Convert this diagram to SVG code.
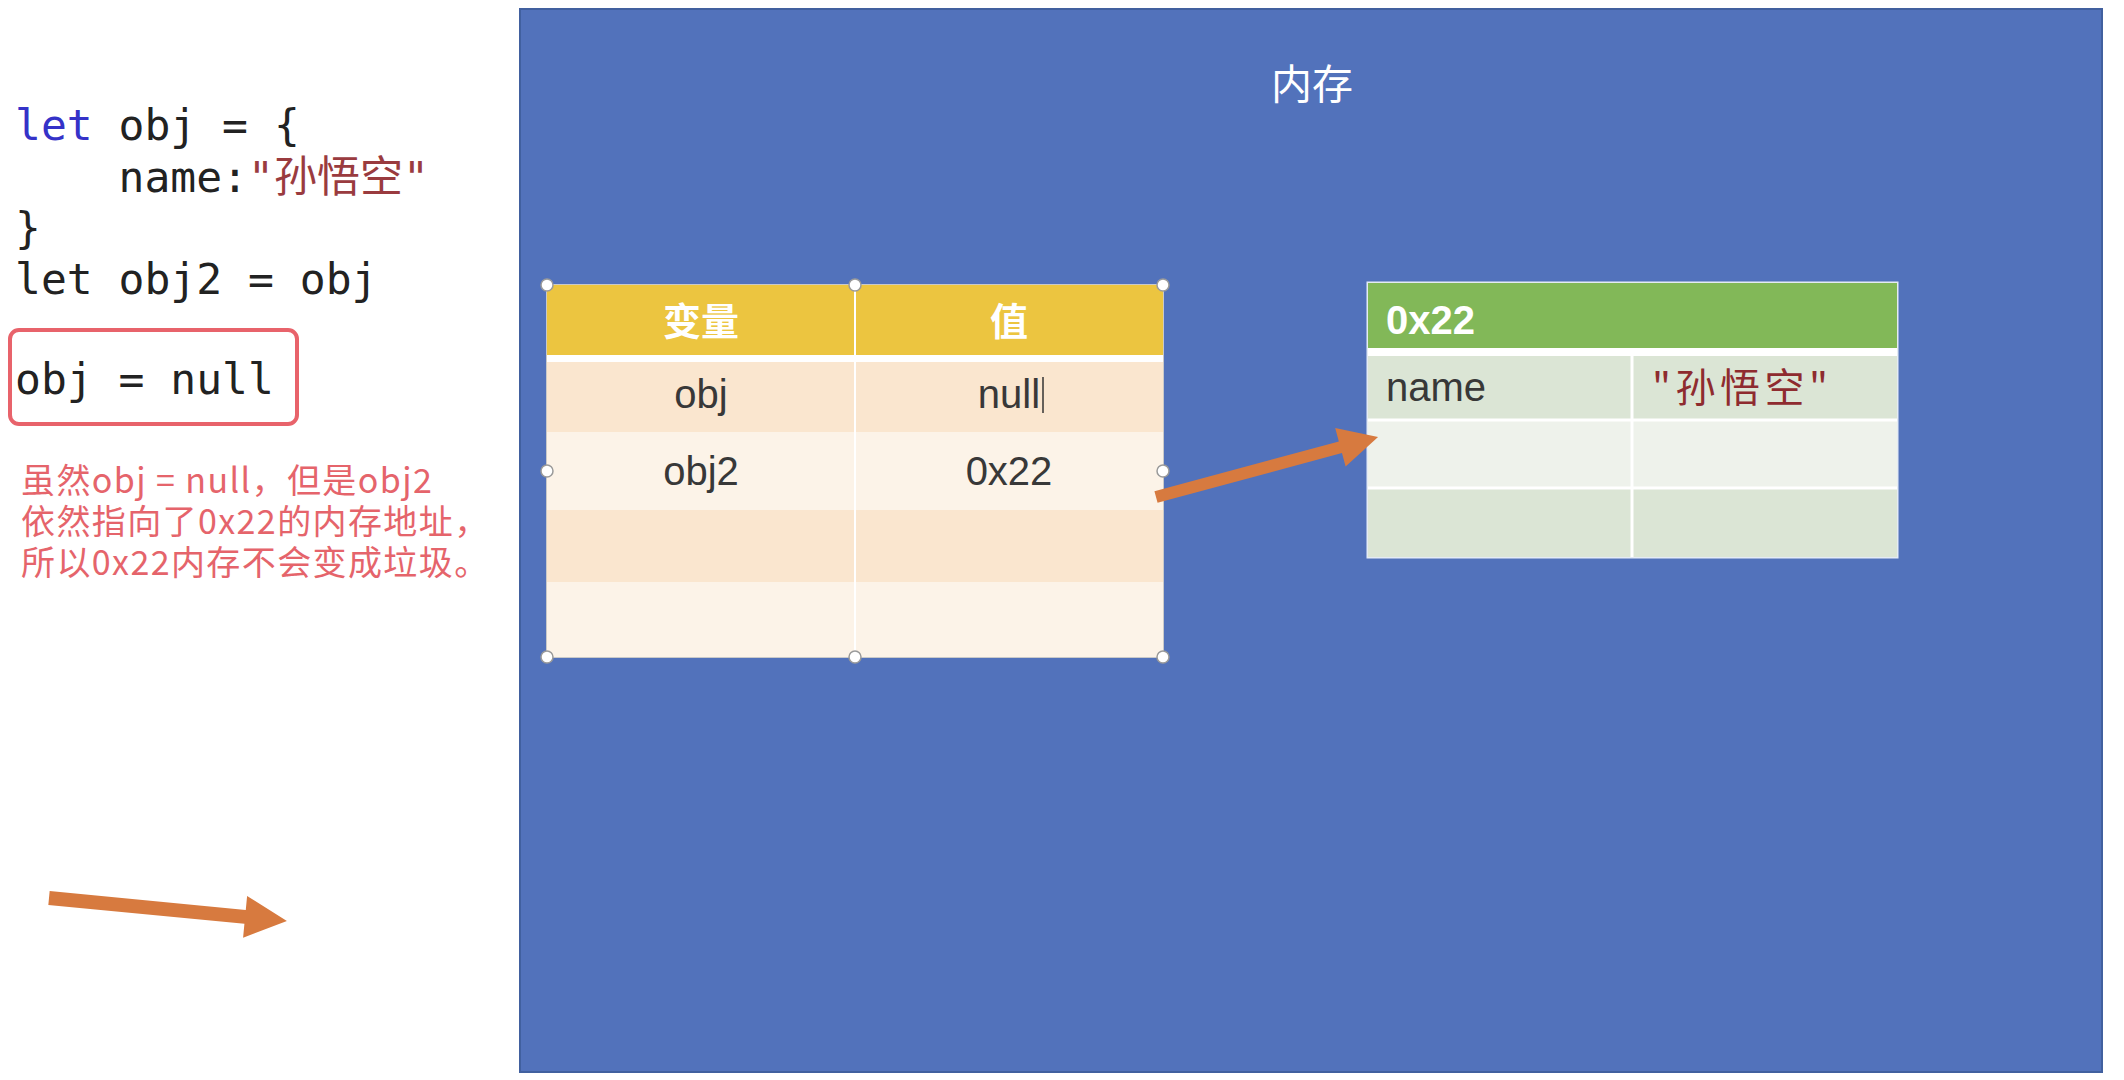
<svg xmlns="http://www.w3.org/2000/svg" width="2124" height="1080" viewBox="0 0 2124 1080">
<style>
.code{font-family:"DejaVu Sans Mono","Noto Sans CJK SC",monospace;font-size:43px;fill:#222;white-space:pre}
.kw{fill:#3532c8}
.str{fill:#9a3b3f}
.note{font-family:"Noto Sans CJK SC","Noto Sans",sans-serif;font-size:34px;letter-spacing:1.4px;fill:#e5646b}
.title{font-family:"Noto Sans CJK SC",sans-serif;font-size:41px;fill:#ffffff}
.hdr{font-family:"Noto Sans CJK SC",sans-serif;font-size:38px;font-weight:bold;fill:#ffffff}
.cell{font-family:"Liberation Sans","Noto Sans CJK SC",sans-serif;font-size:40px;fill:#383838}
.handle{fill:#ffffff;stroke:#9a9a9a;stroke-width:1.5}
.arrow{fill:#d77a3f}
</style>
<rect x="0" y="0" width="2124" height="1080" fill="#ffffff"/>

<g id="code">
<text class="code" x="15" y="140"><tspan class="kw">let</tspan> obj = {</text>
<text class="code" x="15" y="192">    name:<tspan class="str">"孙悟空"</tspan></text>
<text class="code" x="15" y="243">}</text>
<text class="code" x="15" y="294">let obj2 = obj</text>
</g>

<g id="highlight">
<rect x="10" y="330" width="287" height="94" rx="9" fill="none" stroke="#e8636b" stroke-width="4"/>
<text class="code" x="15" y="394">obj = null</text>
</g>

<g id="note">
<text class="note" x="21" y="493"><tspan x="21" y="493">虽然obj = null，但是obj2</tspan><tspan x="21" y="534">依然指向了0x22的内存地址，</tspan><tspan x="21" y="575">所以0x22内存不会变成垃圾。</tspan></text>
</g>

<g id="memory">
<rect x="520" y="9" width="1582" height="1063" fill="#5272bb" stroke="#41609f" stroke-width="2"/>
<text class="title" x="1312" y="99" text-anchor="middle">内存</text>
</g>

<g id="var-table">
<rect x="547" y="285" width="616" height="372" fill="#fcf3e8" stroke="#c9c9c9" stroke-width="2"/>
<rect x="547" y="285" width="616" height="70" fill="#ecc540"/>
<rect x="547" y="355" width="616" height="7" fill="#ffffff"/>
<rect x="547" y="362" width="616" height="70" fill="#fae6cf"/>
<rect x="547" y="432" width="616" height="78" fill="#fcf3e8"/>
<rect x="547" y="510" width="616" height="72" fill="#fae6cf"/>
<rect x="547" y="582" width="616" height="75" fill="#fcf3e8"/>
<line x1="855" y1="285" x2="855" y2="657" stroke="#ffffff" stroke-width="2"/>
<text class="hdr" x="701" y="335" text-anchor="middle">变量</text>
<text class="hdr" x="1009" y="335" text-anchor="middle">值</text>
<text class="cell" x="701" y="408" text-anchor="middle">obj</text>
<text class="cell" x="1009" y="408" text-anchor="middle">null</text>
<line x1="1043" y1="377" x2="1043" y2="413" stroke="#333333" stroke-width="1.5"/>
<text class="cell" x="701" y="485" text-anchor="middle">obj2</text>
<text class="cell" x="1009" y="485" text-anchor="middle">0x22</text>
<circle class="handle" cx="547" cy="285" r="6"/>
<circle class="handle" cx="855" cy="285" r="6"/>
<circle class="handle" cx="1163" cy="285" r="6"/>
<circle class="handle" cx="547" cy="471" r="6"/>
<circle class="handle" cx="1163" cy="471" r="6"/>
<circle class="handle" cx="547" cy="657" r="6"/>
<circle class="handle" cx="855" cy="657" r="6"/>
<circle class="handle" cx="1163" cy="657" r="6"/>
</g>

<g id="heap-object">
<rect x="1368" y="283" width="529" height="274" fill="#dbe5d5" stroke="#e4ebf5" stroke-width="3"/>
<rect x="1368" y="283" width="529" height="65" fill="#82b858"/>
<rect x="1368" y="348" width="529" height="8" fill="#ffffff"/>
<rect x="1368" y="356" width="529" height="64" fill="#dbe5d5"/>
<rect x="1368" y="420" width="529" height="68" fill="#eef2eb"/>
<rect x="1368" y="488" width="529" height="69" fill="#dbe5d5"/>
<line x1="1368" y1="420" x2="1897" y2="420" stroke="#ffffff" stroke-width="3"/>
<line x1="1368" y1="488" x2="1897" y2="488" stroke="#ffffff" stroke-width="3"/>
<line x1="1632" y1="356" x2="1632" y2="557" stroke="#ffffff" stroke-width="3"/>
<text class="hdr" x="1386" y="334" style="font-family:'Liberation Sans',sans-serif;font-size:40px">0x22</text>
<text class="cell" x="1386" y="401">name</text>
<text class="cell" x="1652" y="402" style="font-family:'Noto Sans CJK SC',sans-serif;fill:#8e2b2f;letter-spacing:4.5px">"孙悟空"</text>
</g>

<g id="connectors">
<polygon class="arrow" transform="translate(1156,497) rotate(-15.1)" points="0,-6 191,-6 191,-20 230,0 191,20 191,6 0,6"/>
<polygon class="arrow" transform="translate(49,898) rotate(5.5)" points="0,-7 197,-7 197,-21 239,0 197,21 197,7 0,7"/>
</g>
</svg>
